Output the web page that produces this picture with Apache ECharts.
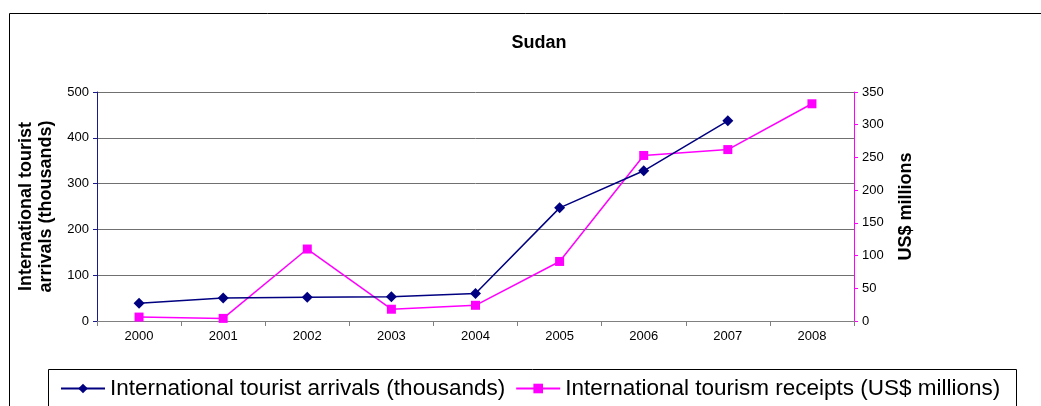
<!DOCTYPE html>
<html>
<head>
<meta charset="utf-8">
<script src="https://cdn.jsdelivr.net/npm/echarts@6/dist/echarts.min.js"></script>
<style>
  html, body { margin: 0; padding: 0; background: #fff; }
  #chart { width: 1041px; height: 406px; }
</style>
</head>
<body>
<div id="chart"></div>
<script>
// Sudan: tourist arrivals (left axis) and tourism receipts (right axis)
const years = ['2000', '2001', '2002', '2003', '2004', '2005', '2006', '2007', '2008'];
const arrivals = [39, 50, 52, 53, 60, 247, 328, 437, null];   // thousands
const receipts = [6, 4, 110, 18, 24, 91, 253, 262, 332];       // US$ millions
const leftTicks = { min: 0, max: 500, interval: 100 };
const rightTicks = { min: 0, max: 350, interval: 50 };

const FONT = 'Liberation Sans, Arial, sans-serif';
const chart = echarts.init(document.getElementById('chart'), null, { renderer: 'canvas' });

chart.setOption({
  animation: false,
  backgroundColor: '#ffffff',
  title: {
    text: 'Sudan',
    left: 534, top: 29, textAlign: 'center',
    textStyle: { fontFamily: FONT, fontSize: 18, fontWeight: 'bold', color: '#000' }
  },
  graphic: [
    { type: 'rect', shape: { x: 9.5, y: 13.5, width: 1060, height: 420 },
      style: { fill: 'none', stroke: '#000', lineWidth: 1 }, z: -1 },
    { type: 'rect', shape: { x: 48.5, y: 369.5, width: 968, height: 60 },
      style: { fill: '#fff', stroke: '#000', lineWidth: 1 }, z: 0 }
  ],
  legend: {
    left: 55, top: 372, itemGap: 10,
    itemWidth: 44, itemHeight: 12,
    textStyle: { fontFamily: FONT, fontSize: 22.5, color: '#000' },
    data: [
      'International tourist arrivals (thousands)',
      'International tourism receipts (US$ millions)'
    ],
    z: 5
  },
  grid: { left: 97, right: 187, top: 92, bottom: 85 },
  xAxis: {
    type: 'category', data: years, boundaryGap: true,
    axisLine: { lineStyle: { color: '#808080', width: 1 } },
    axisTick: { show: true, alignWithLabel: false, length: 5, lineStyle: { color: '#808080' } },
    axisLabel: { fontFamily: FONT, fontSize: 13, color: '#000', margin: 9 },
    splitLine: { show: false }
  },
  yAxis: [
    {
      type: 'value', position: 'left', ...leftTicks,
      name: 'International tourist\narrivals (thousands)',
      nameLocation: 'middle', nameGap: 38, nameRotate: 90,
      nameTextStyle: { fontFamily: FONT, fontSize: 18, fontWeight: 'bold', color: '#000', lineHeight: 20 },
      axisLine: { show: true, lineStyle: { color: '#1a1a8c', width: 1 } },
      axisTick: { show: true, length: 4, lineStyle: { color: '#1a1a8c' } },
      axisLabel: { fontFamily: FONT, fontSize: 13, color: '#000', margin: 8 },
      splitLine: { show: true, lineStyle: { color: '#707070', width: 1 } }
    },
    {
      type: 'value', position: 'right', ...rightTicks,
      name: 'US$ millions',
      nameLocation: 'middle', nameGap: 43, nameRotate: 90,
      nameTextStyle: { fontFamily: FONT, fontSize: 18, fontWeight: 'bold', color: '#000' },
      axisLine: { show: true, lineStyle: { color: '#ff00ff', width: 1 } },
      axisTick: { show: true, length: 4, lineStyle: { color: '#ff00ff' } },
      axisLabel: { fontFamily: FONT, fontSize: 13, color: '#000', margin: 8 },
      splitLine: { show: false }
    }
  ],
  series: [
    {
      name: 'International tourist arrivals (thousands)',
      type: 'line', yAxisIndex: 0, data: arrivals,
      symbol: 'diamond', symbolSize: 11,
      lineStyle: { color: '#000080', width: 1.5 },
      itemStyle: { color: '#000080' },
      z: 3
    },
    {
      name: 'International tourism receipts (US$ millions)',
      type: 'line', yAxisIndex: 1, data: receipts,
      symbol: 'rect', symbolSize: 9,
      lineStyle: { color: '#ff00ff', width: 1.5 },
      itemStyle: { color: '#ff00ff' },
      z: 2
    }
  ]
});
</script>
</body>
</html>
